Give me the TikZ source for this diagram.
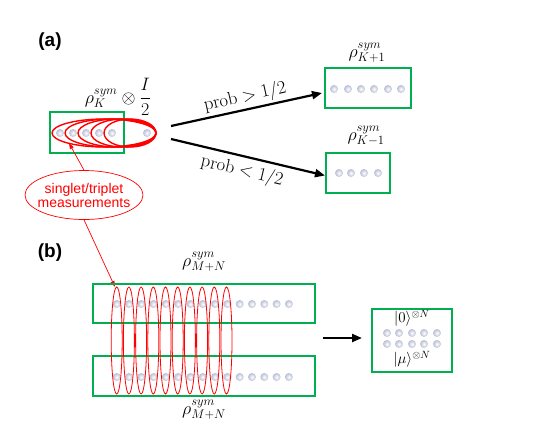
\RequirePackage{fix-cm}
\documentclass[tikz,border=0pt]{standalone}
\usepackage{fontspec}
\setsansfont{Liberation Sans}
\usetikzlibrary{arrows.meta,shapes.geometric}
\definecolor{ggreen}{RGB}{0,176,80}
\definecolor{ballc}{RGB}{185,190,212}
\definecolor{rred}{RGB}{255,0,0}
\begin{document}
\begin{tikzpicture}[x=1pt,y=-1pt,
  gbox/.style={draw=ggreen,line width=2pt,inner sep=0pt},
  ball/.style={circle,minimum size=8pt,inner sep=0pt,inner color=white,outer color=ballc},
  mlab/.style={font=\fontsize{18}{20}\selectfont,inner sep=0pt},
  plab/.style={font=\fontsize{18.5}{20}\selectfont,inner sep=0pt},
  klab/.style={font=\fontsize{15}{17}\selectfont,inner sep=0pt},
  blk/.style={line width=2.2pt,-{Triangle[length=10pt,width=8pt]}},
  ra/.style={draw=rred,line width=0.7pt,-{Triangle[length=6pt,width=4pt]}},
  pnl/.style={font=\sffamily\bfseries\fontsize{19}{22}\selectfont,inner sep=0pt}]
\useasboundingbox (0,0) rectangle (545,440);
% panel labels
\node[pnl] (la) at (50,42) {(a)};
\node[pnl] (lb) at (50,253) {(b)};
% ---- panel (a)
\node[gbox,minimum width=74pt,minimum height=41pt] (bk) at (87,132.5) {};
\foreach \i/\x in {1/60,2/73,3/86,4/99,5/112,6/147}
  \node[ball] (ka\i) at (\x,133) {};
\foreach \l in {52,65,78,91,104}
  \draw[rred,line width=1.4pt] ({(\l+156)/2},133) ellipse [x radius={(156-\l)/2}, y radius=14];
\node[mlab] (lk) at (118,97) {$\displaystyle\rho_K^{sym}\otimes\frac{I}{2}$};
% upper result
\node[gbox,minimum width=86pt,minimum height=40pt] (bkp) at (368,88) {};
\foreach \i/\x in {1/334,2/348,3/361,4/374,5/388,6/401}
  \node[ball] (kp\i) at (\x,89) {};
\node[mlab] (lkp) at (367,53) {$\rho_{K+1}^{sym}$};
% lower result
\node[gbox,minimum width=64pt,minimum height=40pt] (bkm) at (358,173) {};
\foreach \i/\x in {1/339,2/351,3/364,4/378}
  \node[ball] (km\i) at (\x,173) {};
\node[mlab] (lkm) at (366,136) {$\rho_{K-1}^{sym}$};
% arrows
\coordinate (u0) at (171,126);
\coordinate (u1) at (322,93);
\coordinate (d0) at (171,139);
\coordinate (d1) at (325,175.5);
\draw[blk] (u0) -- (u1);
\draw[blk] (d0) -- (d1);
\node[plab,rotate=12.5] (pu) at (245,97) {$\mathrm{prob} > 1/2$};
\node[plab,rotate=-13.3] (pd) at (242,171) {$\mathrm{prob} < 1/2$};
% callout
\node[draw=rred,line width=0.7pt,ellipse,minimum width=118pt,minimum height=49pt,inner sep=0pt] (co) at (84,195) {};
\node[align=center,text=rred,font=\sffamily\fontsize{14}{14}\selectfont,inner sep=0pt] (cot) at (co.center)
      {singlet/triplet\\measurements};
\coordinate (t1) at (69,143);
\coordinate (t2) at (115,287);
\draw[ra] (co.north) -- (t1);
\draw[ra] (co.south) -- (t2);
% ---- panel (b)
\node[gbox,minimum width=222pt,minimum height=39pt] (bt) at (204,303.5) {};
\node[gbox,minimum width=222pt,minimum height=40pt] (bb) at (204,376) {};
\foreach \i in {0,...,14} {
  \node[ball] (bt\i) at ({116.7+12.3*\i},304) {};
  \node[ball] (bb\i) at ({116.7+12.3*\i},377) {};
}
\foreach \i in {0,...,9}
  \draw[rred,line width=0.8pt] ({116.7+12.2*\i},340.5) ellipse [x radius=5.5, y radius=53.5];
\node[mlab] (lbt) at (204,262) {$\rho_{M+N}^{sym}$};
\node[mlab] (lbb) at (204,410) {$\rho_{M+N}^{sym}$};
\node[gbox,minimum width=80pt,minimum height=63pt] (br) at (412,340.5) {};
\foreach \i/\x in {1/387,2/399,3/412,4/424,5/437} {
  \node[ball] (ra\i) at (\x,333) {};
  \node[ball] (rb\i) at (\x,344) {};
}
\node[klab] (z0) at (412,318) {$|0\rangle^{\otimes N}$};
\node[klab] (zm) at (412,359) {$|\mu\rangle^{\otimes N}$};
\coordinate (r0) at (323,338);
\coordinate (r1) at (362,338);
\draw[blk] (r0) -- (r1);
\end{tikzpicture}
\end{document}
